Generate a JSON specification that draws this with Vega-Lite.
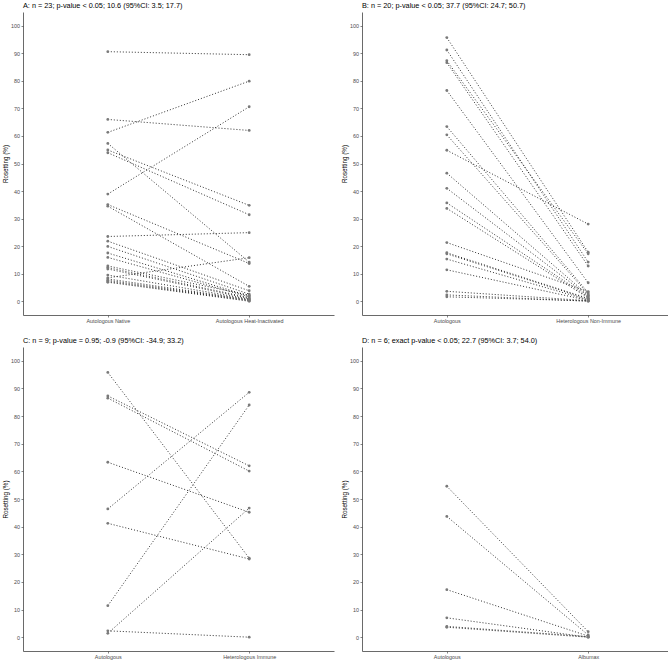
{
  "$schema": "https://vega.github.io/schema/vega-lite/v6.json",
  "padding": {"left": 2, "top": 1, "right": 0, "bottom": 0},
  "background": "white",
  "columns": 2,
  "spacing": {"row": 12, "column": 7},
  "datasets": {
    "A": [
      {"id": 1, "cond": "Autologous Native", "value": 90.6}, {"id": 1, "cond": "Autologous Heat-Inactivated", "value": 89.5},
      {"id": 2, "cond": "Autologous Native", "value": 66.0}, {"id": 2, "cond": "Autologous Heat-Inactivated", "value": 62.0},
      {"id": 3, "cond": "Autologous Native", "value": 61.3}, {"id": 3, "cond": "Autologous Heat-Inactivated", "value": 79.9},
      {"id": 4, "cond": "Autologous Native", "value": 57.3}, {"id": 4, "cond": "Autologous Heat-Inactivated", "value": 14.2},
      {"id": 5, "cond": "Autologous Native", "value": 54.9}, {"id": 5, "cond": "Autologous Heat-Inactivated", "value": 34.8},
      {"id": 6, "cond": "Autologous Native", "value": 53.9}, {"id": 6, "cond": "Autologous Heat-Inactivated", "value": 31.4},
      {"id": 7, "cond": "Autologous Native", "value": 38.9}, {"id": 7, "cond": "Autologous Heat-Inactivated", "value": 70.6},
      {"id": 8, "cond": "Autologous Native", "value": 35.1}, {"id": 8, "cond": "Autologous Heat-Inactivated", "value": 13.7},
      {"id": 9, "cond": "Autologous Native", "value": 34.5}, {"id": 9, "cond": "Autologous Heat-Inactivated", "value": 5.4},
      {"id": 10, "cond": "Autologous Native", "value": 23.5}, {"id": 10, "cond": "Autologous Heat-Inactivated", "value": 24.9},
      {"id": 11, "cond": "Autologous Native", "value": 21.8}, {"id": 11, "cond": "Autologous Heat-Inactivated", "value": 3.8},
      {"id": 12, "cond": "Autologous Native", "value": 19.9}, {"id": 12, "cond": "Autologous Heat-Inactivated", "value": 2.6},
      {"id": 13, "cond": "Autologous Native", "value": 17.5}, {"id": 13, "cond": "Autologous Heat-Inactivated", "value": 1.9},
      {"id": 14, "cond": "Autologous Native", "value": 15.9}, {"id": 14, "cond": "Autologous Heat-Inactivated", "value": 1.6},
      {"id": 15, "cond": "Autologous Native", "value": 12.8}, {"id": 15, "cond": "Autologous Heat-Inactivated", "value": 2.2},
      {"id": 16, "cond": "Autologous Native", "value": 12.2}, {"id": 16, "cond": "Autologous Heat-Inactivated", "value": 1.3},
      {"id": 17, "cond": "Autologous Native", "value": 11.7}, {"id": 17, "cond": "Autologous Heat-Inactivated", "value": 1.0},
      {"id": 18, "cond": "Autologous Native", "value": 9.5}, {"id": 18, "cond": "Autologous Heat-Inactivated", "value": 0.8},
      {"id": 19, "cond": "Autologous Native", "value": 8.5}, {"id": 19, "cond": "Autologous Heat-Inactivated", "value": 15.8},
      {"id": 20, "cond": "Autologous Native", "value": 8.1}, {"id": 20, "cond": "Autologous Heat-Inactivated", "value": 0.6},
      {"id": 21, "cond": "Autologous Native", "value": 7.6}, {"id": 21, "cond": "Autologous Heat-Inactivated", "value": 0.4},
      {"id": 22, "cond": "Autologous Native", "value": 7.2}, {"id": 22, "cond": "Autologous Heat-Inactivated", "value": 0.2},
      {"id": 23, "cond": "Autologous Native", "value": 6.9}, {"id": 23, "cond": "Autologous Heat-Inactivated", "value": 0.0}
    ],
    "B": [
      {"id": 1, "cond": "Autologous", "value": 95.7}, {"id": 1, "cond": "Heterologous Non-Immune", "value": 17.8},
      {"id": 2, "cond": "Autologous", "value": 91.2}, {"id": 2, "cond": "Heterologous Non-Immune", "value": 14.2},
      {"id": 3, "cond": "Autologous", "value": 87.3}, {"id": 3, "cond": "Heterologous Non-Immune", "value": 17.2},
      {"id": 4, "cond": "Autologous", "value": 86.6}, {"id": 4, "cond": "Heterologous Non-Immune", "value": 12.8},
      {"id": 5, "cond": "Autologous", "value": 76.5}, {"id": 5, "cond": "Heterologous Non-Immune", "value": 6.7},
      {"id": 6, "cond": "Autologous", "value": 63.4}, {"id": 6, "cond": "Heterologous Non-Immune", "value": 3.1},
      {"id": 7, "cond": "Autologous", "value": 60.4}, {"id": 7, "cond": "Heterologous Non-Immune", "value": 2.6},
      {"id": 8, "cond": "Autologous", "value": 54.8}, {"id": 8, "cond": "Heterologous Non-Immune", "value": 28.0},
      {"id": 9, "cond": "Autologous", "value": 46.5}, {"id": 9, "cond": "Heterologous Non-Immune", "value": 2.2},
      {"id": 10, "cond": "Autologous", "value": 41.0}, {"id": 10, "cond": "Heterologous Non-Immune", "value": 1.9},
      {"id": 11, "cond": "Autologous", "value": 35.7}, {"id": 11, "cond": "Heterologous Non-Immune", "value": 1.6},
      {"id": 12, "cond": "Autologous", "value": 33.7}, {"id": 12, "cond": "Heterologous Non-Immune", "value": 1.2},
      {"id": 13, "cond": "Autologous", "value": 21.3}, {"id": 13, "cond": "Heterologous Non-Immune", "value": 3.5},
      {"id": 14, "cond": "Autologous", "value": 17.6}, {"id": 14, "cond": "Heterologous Non-Immune", "value": 1.0},
      {"id": 15, "cond": "Autologous", "value": 17.2}, {"id": 15, "cond": "Heterologous Non-Immune", "value": 0.8},
      {"id": 16, "cond": "Autologous", "value": 15.3}, {"id": 16, "cond": "Heterologous Non-Immune", "value": 0.5},
      {"id": 17, "cond": "Autologous", "value": 11.4}, {"id": 17, "cond": "Heterologous Non-Immune", "value": 0.3},
      {"id": 18, "cond": "Autologous", "value": 3.6}, {"id": 18, "cond": "Heterologous Non-Immune", "value": 0.2},
      {"id": 19, "cond": "Autologous", "value": 2.3}, {"id": 19, "cond": "Heterologous Non-Immune", "value": 0.0},
      {"id": 20, "cond": "Autologous", "value": 1.6}, {"id": 20, "cond": "Heterologous Non-Immune", "value": 0.1}
    ],
    "C": [
      {"id": 1, "cond": "Autologous", "value": 95.8}, {"id": 1, "cond": "Heterologous Immune", "value": 28.6},
      {"id": 2, "cond": "Autologous", "value": 87.3}, {"id": 2, "cond": "Heterologous Immune", "value": 62.0},
      {"id": 3, "cond": "Autologous", "value": 86.5}, {"id": 3, "cond": "Heterologous Immune", "value": 60.1},
      {"id": 4, "cond": "Autologous", "value": 63.3}, {"id": 4, "cond": "Heterologous Immune", "value": 45.2},
      {"id": 5, "cond": "Autologous", "value": 46.4}, {"id": 5, "cond": "Heterologous Immune", "value": 88.6},
      {"id": 6, "cond": "Autologous", "value": 41.2}, {"id": 6, "cond": "Heterologous Immune", "value": 28.3},
      {"id": 7, "cond": "Autologous", "value": 11.4}, {"id": 7, "cond": "Heterologous Immune", "value": 84.0},
      {"id": 8, "cond": "Autologous", "value": 2.3}, {"id": 8, "cond": "Heterologous Immune", "value": 0.0},
      {"id": 9, "cond": "Autologous", "value": 1.4}, {"id": 9, "cond": "Heterologous Immune", "value": 46.7}
    ],
    "D": [
      {"id": 1, "cond": "Autologous", "value": 54.6}, {"id": 1, "cond": "Albumax", "value": 2.0},
      {"id": 2, "cond": "Autologous", "value": 43.7}, {"id": 2, "cond": "Albumax", "value": 0.8},
      {"id": 3, "cond": "Autologous", "value": 17.2}, {"id": 3, "cond": "Albumax", "value": 0.4},
      {"id": 4, "cond": "Autologous", "value": 7.0}, {"id": 4, "cond": "Albumax", "value": 0.0},
      {"id": 5, "cond": "Autologous", "value": 3.9}, {"id": 5, "cond": "Albumax", "value": 0.2},
      {"id": 6, "cond": "Autologous", "value": 3.6}, {"id": 6, "cond": "Albumax", "value": 0.0}
    ]
  },
  "concat": [
    {
      "data": {"name": "A"},
      "title": {"text": "A: n = 23; p-value < 0.05; 10.6 (95%CI: 3.5; 17.7)"},
      "width": 311, "height": 303,
      "encoding": {
        "x": {"field": "cond", "type": "nominal", "scale": {"type": "point", "padding": 0.6, "domain": ["Autologous Native", "Autologous Heat-Inactivated"]}, "axis": {"title": null, "labelAngle": 0}},
        "y": {"field": "value", "type": "quantitative", "scale": {"domain": [-5, 105], "nice": false, "zero": false}, "axis": {"title": "Rosetting (%)", "values": [0, 10, 20, 30, 40, 50, 60, 70, 80, 90, 100]}}
      },
      "layer": [
        {"mark": {"type": "line", "strokeDash": [1, 2], "strokeWidth": 0.9, "color": "#1a1a1a"}, "encoding": {"detail": {"field": "id"}}},
        {"mark": {"type": "point", "filled": true, "size": 8, "color": "#7a7a7a", "opacity": 1}}
      ]
    },
    {
      "data": {"name": "B"},
      "title": {"text": "B: n = 20; p-value < 0.05; 37.7 (95%CI: 24.7; 50.7)"},
      "width": 311, "height": 303,
      "encoding": {
        "x": {"field": "cond", "type": "nominal", "scale": {"type": "point", "padding": 0.6, "domain": ["Autologous", "Heterologous Non-Immune"]}, "axis": {"title": null, "labelAngle": 0}},
        "y": {"field": "value", "type": "quantitative", "scale": {"domain": [-5, 105], "nice": false, "zero": false}, "axis": {"title": "Rosetting (%)", "values": [0, 10, 20, 30, 40, 50, 60, 70, 80, 90, 100]}}
      },
      "layer": [
        {"mark": {"type": "line", "strokeDash": [1, 2], "strokeWidth": 0.9, "color": "#1a1a1a"}, "encoding": {"detail": {"field": "id"}}},
        {"mark": {"type": "point", "filled": true, "size": 8, "color": "#7a7a7a", "opacity": 1}}
      ]
    },
    {
      "data": {"name": "C"},
      "title": {"text": "C: n = 9; p-value = 0.95; -0.9 (95%CI: -34.9; 33.2)"},
      "width": 311, "height": 304,
      "encoding": {
        "x": {"field": "cond", "type": "nominal", "scale": {"type": "point", "padding": 0.6, "domain": ["Autologous", "Heterologous Immune"]}, "axis": {"title": null, "labelAngle": 0}},
        "y": {"field": "value", "type": "quantitative", "scale": {"domain": [-5, 105], "nice": false, "zero": false}, "axis": {"title": "Rosetting (%)", "values": [0, 10, 20, 30, 40, 50, 60, 70, 80, 90, 100]}}
      },
      "layer": [
        {"mark": {"type": "line", "strokeDash": [1, 2], "strokeWidth": 0.9, "color": "#1a1a1a"}, "encoding": {"detail": {"field": "id"}}},
        {"mark": {"type": "point", "filled": true, "size": 8, "color": "#7a7a7a", "opacity": 1}}
      ]
    },
    {
      "data": {"name": "D"},
      "title": {"text": "D: n = 6; exact p-value < 0.05; 22.7 (95%CI: 3.7; 54.0)"},
      "width": 311, "height": 304,
      "encoding": {
        "x": {"field": "cond", "type": "nominal", "scale": {"type": "point", "padding": 0.6, "domain": ["Autologous", "Albumax"]}, "axis": {"title": null, "labelAngle": 0}},
        "y": {"field": "value", "type": "quantitative", "scale": {"domain": [-5, 105], "nice": false, "zero": false}, "axis": {"title": "Rosetting (%)", "values": [0, 10, 20, 30, 40, 50, 60, 70, 80, 90, 100]}}
      },
      "layer": [
        {"mark": {"type": "line", "strokeDash": [1, 2], "strokeWidth": 0.9, "color": "#1a1a1a"}, "encoding": {"detail": {"field": "id"}}},
        {"mark": {"type": "point", "filled": true, "size": 8, "color": "#7a7a7a", "opacity": 1}}
      ]
    }
  ],
  "config": {
    "font": "Liberation Sans",
    "view": {"stroke": null},
    "title": {"anchor": "start", "frame": "group", "fontSize": 7.3, "fontWeight": "normal", "color": "#000000", "offset": 3, "font": "Liberation Sans"},
    "axis": {
      "grid": false,
      "labelFont": "Liberation Sans",
      "labelFontSize": 5.4,
      "labelColor": "#4d4d4d",
      "labelPadding": 1.5,
      "tickSize": 2,
      "tickWidth": 0.6,
      "tickColor": "#333333",
      "domainColor": "#444444",
      "domainWidth": 0.8,
      "titleFont": "Liberation Sans",
      "titleFontSize": 6.3,
      "titleFontWeight": "normal",
      "titleColor": "#000000",
      "titlePadding": 2
    }
  }
}
